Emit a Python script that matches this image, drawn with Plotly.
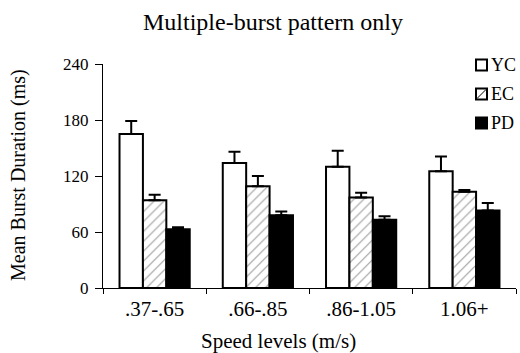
import plotly.graph_objects as go

categories = [".37-.65", ".66-.85", ".86-1.05", "1.06+"]
yc = [165, 134, 130, 125]
yc_err = [14, 12, 17, 16]
ec = [94, 109, 97, 103]
ec_err = [6, 11, 5, 2]
pd_vals = [63, 78, 73, 83]
pd_err = [2, 4, 4, 8]
y_ticks = [0, 60, 120, 180, 240]
legend_names = ["YC", "EC", "PD"]

FONT = "Liberation Serif, Times New Roman, serif"

# plot area in pixels
L, R, T, B = 103, 516, 64, 288
W, H = 520, 353

def px_x(p):
    return (p - L) / (R - L)

def px_y(p):
    return (B - p) / (B - T)

def err(a):
    return dict(type="data", array=a, arrayminus=[0] * len(a), symmetric=False,
                color="black", thickness=2, width=6)

fig = go.Figure()
fig.add_trace(go.Bar(name="YC", x=categories, y=yc, error_y=err(yc_err),
                     marker=dict(color="white", line=dict(color="black", width=2))))
fig.add_trace(go.Bar(name="EC", x=categories, y=ec, error_y=err(ec_err),
                     marker=dict(color="white", line=dict(color="black", width=2),
                                 pattern=dict(shape="/", fgcolor="#333333", bgcolor="white",
                                              size=7, solidity=0.15))))
fig.add_trace(go.Bar(name="PD", x=categories, y=pd_vals, error_y=err(pd_err),
                     marker=dict(color="black", line=dict(color="black", width=2))))

fig.update_layout(
    width=W, height=H,
    margin=dict(l=L, r=W - R, t=T, b=H - B, autoexpand=False),
    paper_bgcolor="white", plot_bgcolor="white",
    font=dict(family=FONT, size=16, color="black"),
    barmode="group", bargap=0.32, bargroupgap=0,
    showlegend=False,
)
fig.update_xaxes(showline=True, linecolor="black", linewidth=1, ticks="outside",
                 tickson="boundaries", ticklen=5, tickcolor="black",
                 tickfont=dict(size=21), showgrid=False, automargin=False,
                 ticklabelstandoff=2)
fig.update_yaxes(range=[0, 240], tickvals=y_ticks, showline=True, linecolor="black",
                 linewidth=1, ticks="outside", ticklen=7, tickcolor="black",
                 tickfont=dict(size=17), showgrid=False, zeroline=False,
                 automargin=False, ticklabelstandoff=3)

# titles
fig.add_annotation(text="Multiple-burst pattern only", xref="paper", yref="paper",
                   x=px_x(273), y=px_y(22), xanchor="center", yanchor="middle",
                   showarrow=False, font=dict(size=24))
fig.add_annotation(text="Speed levels (m/s)", xref="paper", yref="paper",
                   x=px_x(278), y=px_y(341), xanchor="center", yanchor="middle",
                   showarrow=False, font=dict(size=21))
fig.add_annotation(text="Mean Burst Duration (ms)", xref="paper", yref="paper",
                   x=px_x(18), y=px_y(175), xanchor="center", yanchor="middle",
                   textangle=-90, showarrow=False, font=dict(size=20))

# manual legend
box_x0, box_x1 = 476, 487
centers = [65, 94, 123]
fills = ["white", "white", "black"]
for name, cy, fc in zip(legend_names, centers, fills):
    fig.add_shape(type="rect", xref="paper", yref="paper",
                  x0=px_x(box_x0), x1=px_x(box_x1), y0=px_y(cy + 5.5), y1=px_y(cy - 5.5),
                  fillcolor=fc, line=dict(color="black", width=2))
    if name == "EC":
        fig.add_shape(type="line", xref="paper", yref="paper",
                      x0=px_x(box_x0 + 1), x1=px_x(box_x1 - 1),
                      y0=px_y(cy + 4.5), y1=px_y(cy - 4.5),
                      line=dict(color="black", width=1))
    fig.add_annotation(text=name, xref="paper", yref="paper",
                       x=px_x(489), y=px_y(cy), xanchor="left", yanchor="middle",
                       showarrow=False, font=dict(size=18))

fig.write_html("out.html", config={"displayModeBar": False},
               post_script="document.body.style.margin='0';document.body.style.overflow='hidden';")
